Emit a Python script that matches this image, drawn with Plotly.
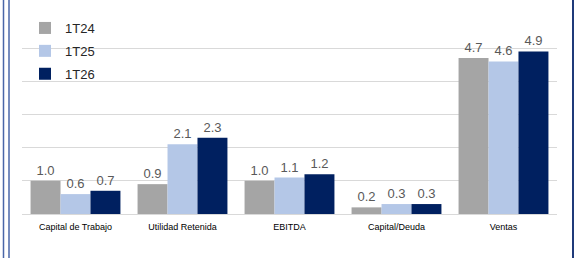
import plotly.graph_objects as go

categories = ["Capital de Trabajo", "Utilidad Retenida", "EBITDA", "Capital/Deuda", "Ventas"]
series_names = ["1T24", "1T25", "1T26"]
v_1t24 = [1.0, 0.9, 1.0, 0.2, 4.7]
v_1t25 = [0.6, 2.1, 1.1, 0.3, 4.6]
v_1t26 = [0.7, 2.3, 1.2, 0.3, 4.9]
colors = ["#A5A5A5", "#B4C7E7", "#002060"]

W, H = 575, 258
ml, mr, mt, mb = 22, 18, 15, 44
pw = W - ml - mr
ph = H - mt - mb

fig = go.Figure()
for name, vals, col in zip(series_names, [v_1t24, v_1t25, v_1t26], colors):
    fig.add_trace(go.Bar(
        x=categories, y=vals, name=name, marker_color=col, marker_line_width=0,
        text=[f"{v:.1f}" for v in vals], textposition="outside",
        textfont=dict(family="Liberation Sans, Arial", size=13, color="#595959"),
        cliponaxis=False, legendgroup=name,
    ))

def px(x):
    return (x - ml) / pw

def py(y):
    return (H - mb - y) / ph

shapes = [
    dict(type="line", xref="paper", yref="paper", x0=px(3.5), x1=px(3.5), y0=py(0), y1=py(H), line=dict(color="#4A66A8", width=1.5)),
    dict(type="line", xref="paper", yref="paper", x0=px(9), x1=px(9), y0=py(0), y1=py(H), line=dict(color="#4A66A8", width=1.5)),
    dict(type="line", xref="paper", yref="paper", x0=px(573), x1=px(573), y0=py(0), y1=py(H), line=dict(color="#1F3A7A", width=2)),
]

fig.update_layout(
    width=W, height=H,
    margin=dict(l=ml, r=mr, t=mt, b=mb),
    paper_bgcolor="white", plot_bgcolor="white",
    barmode="group", bargap=0.16, bargroupgap=0,
    showlegend=True,
    legend=dict(x=px(25), y=py(13), xanchor="left", yanchor="top", bgcolor="rgba(0,0,0,0)",
                font=dict(family="Liberation Sans, Arial", size=13, color="#262626"),
                tracegroupgap=3, itemwidth=30),
    xaxis=dict(showgrid=False, showline=True, linecolor="#D9D9D9", linewidth=1, ticks="",
               ticklabelstandoff=4,
               tickfont=dict(family="Liberation Sans Narrow, Arial Narrow, Liberation Sans", size=9, color="#000000")),
    yaxis=dict(range=[0, 6], dtick=1, showgrid=True, gridcolor="#D9D9D9", gridwidth=1,
               showticklabels=False, zeroline=False, showline=False),
    shapes=shapes,
)

fig.write_html("out.html", config={"displayModeBar": False},
               post_script="document.body.style.margin='0';document.body.style.overflow='hidden';")
